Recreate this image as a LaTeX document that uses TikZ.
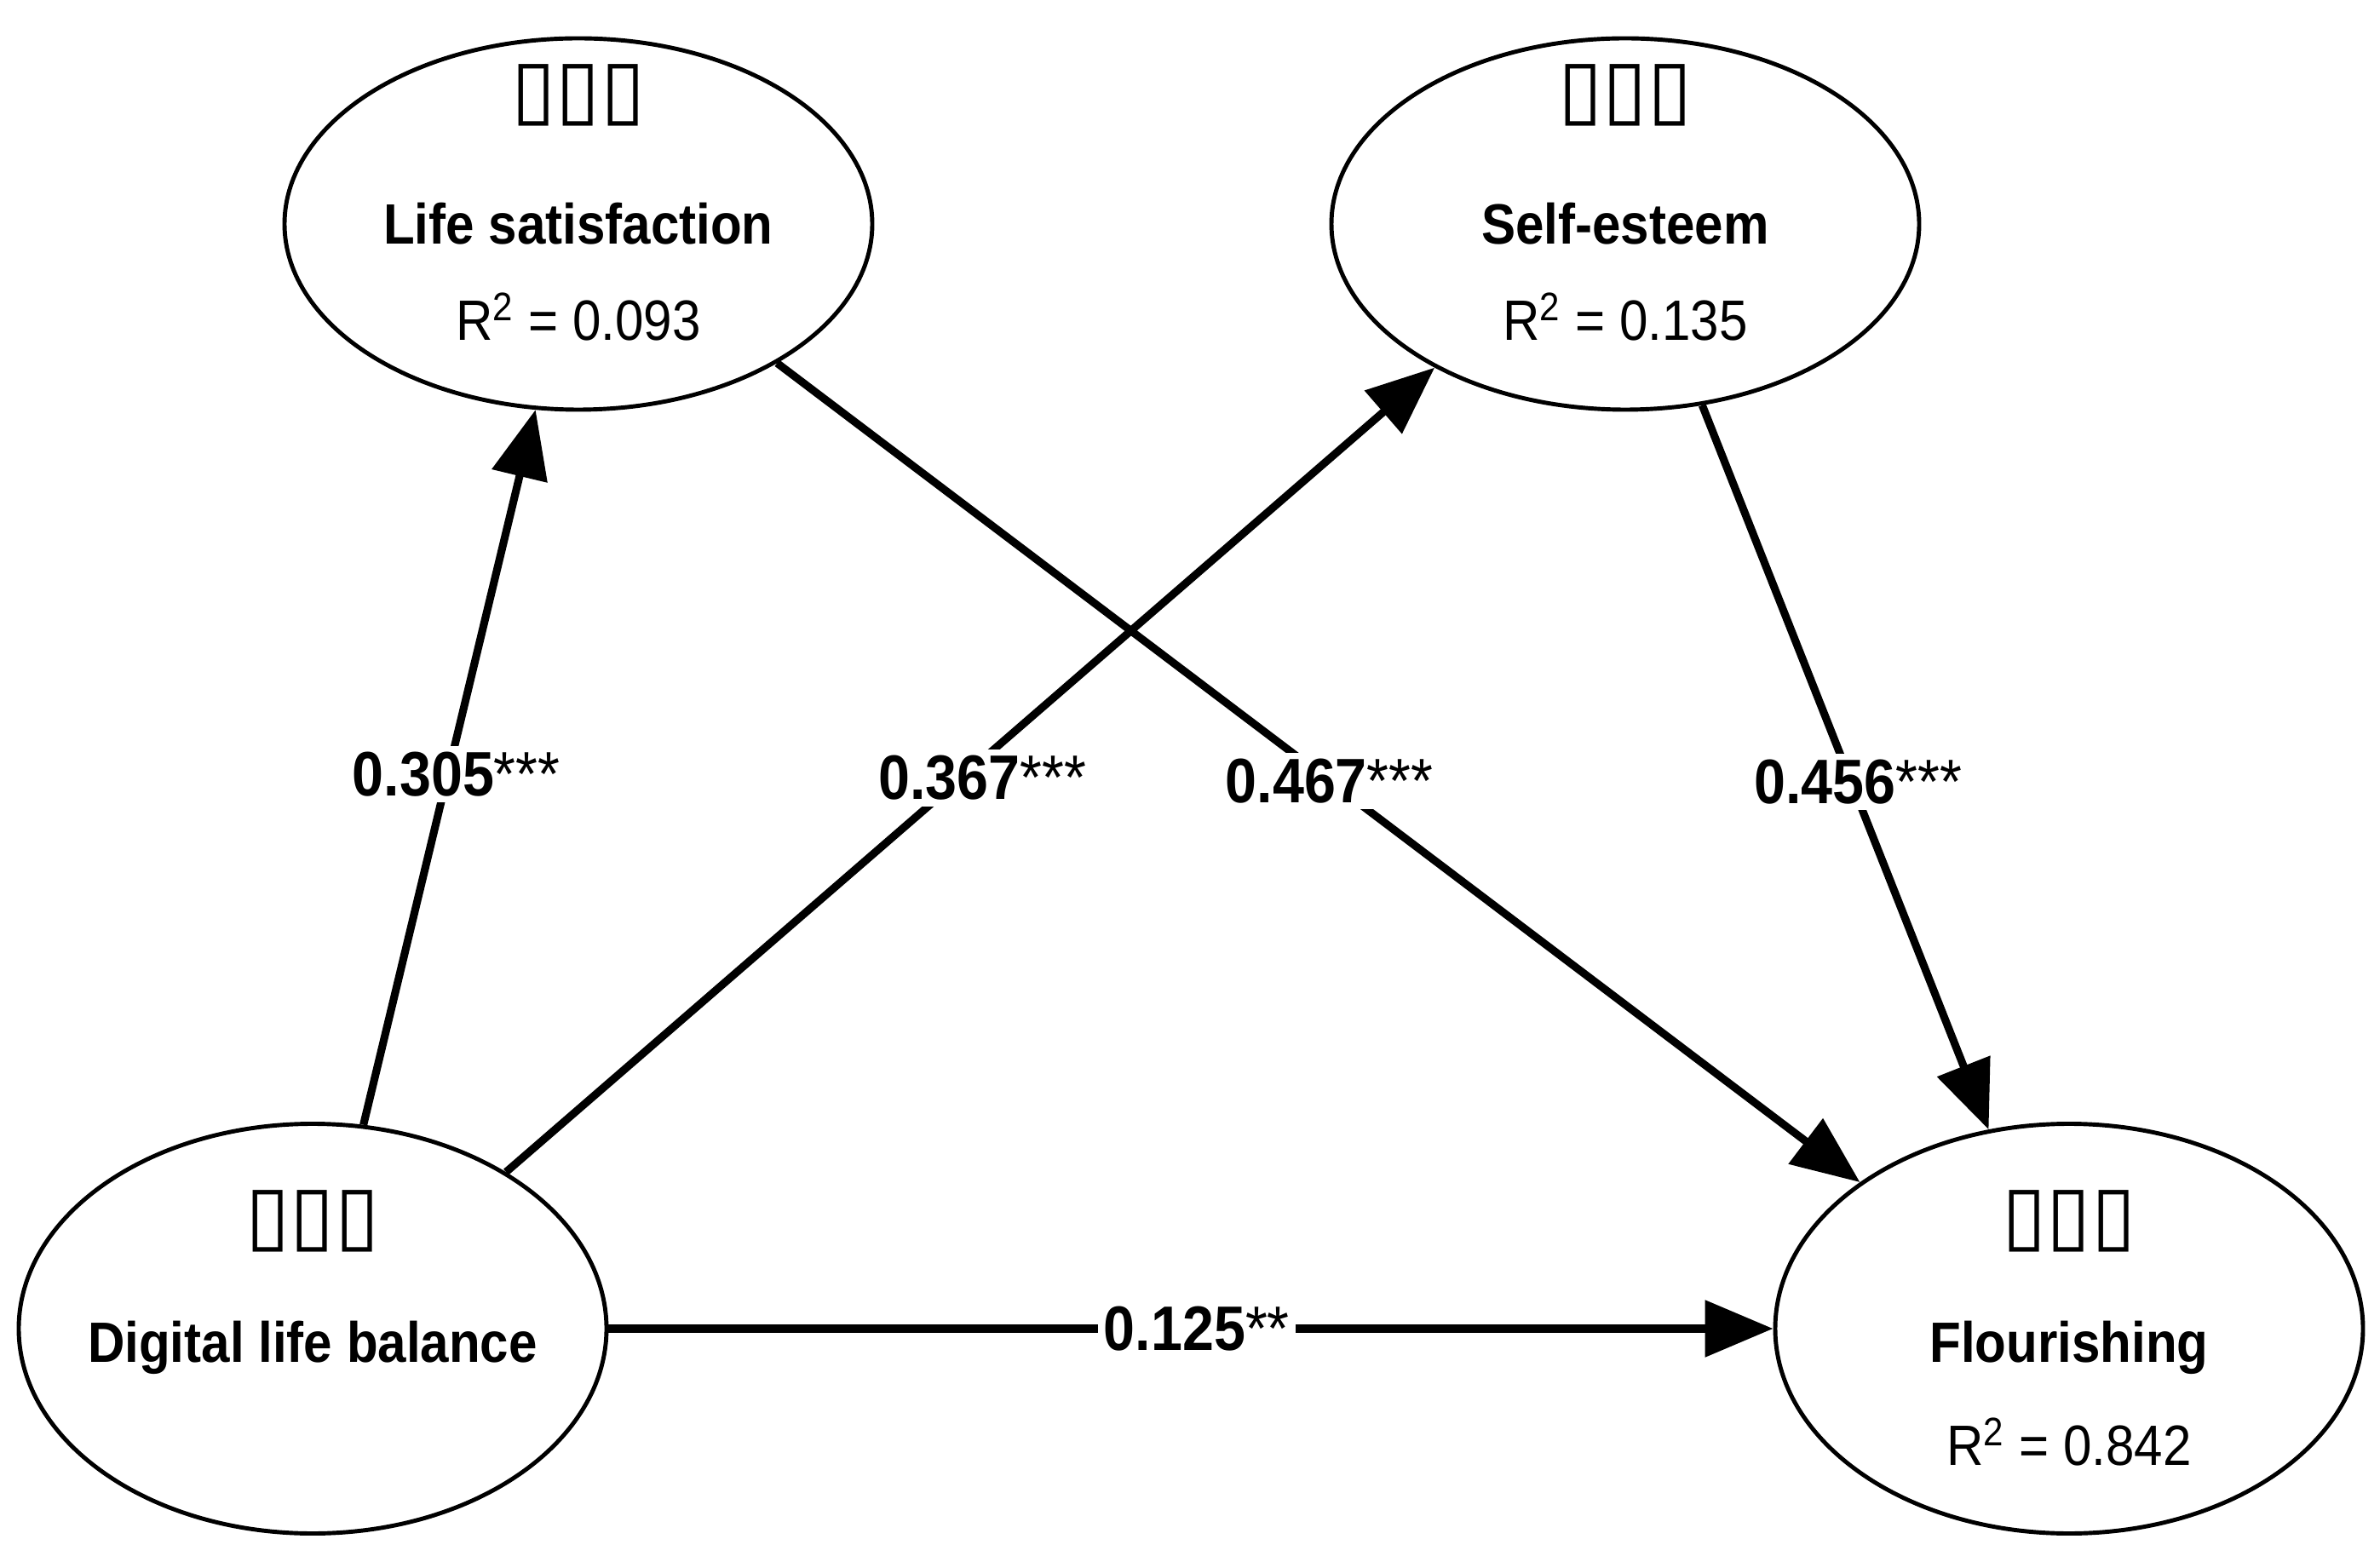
\documentclass[tikz,border=0pt]{standalone}
\usepackage{fontspec}
\setmainfont{Liberation Sans}[FakeStretch=0.9]
\newfontfamily\boxfont{DejaVu Sans}
\usetikzlibrary{arrows.meta, positioning, shapes.geometric}

\begin{document}
\begin{tikzpicture}[
  latent/.style={draw, ellipse, line width=1.4pt, minimum width=6.9cm, inner sep=0pt},
  tofu/.style={font=\boxfont\fontsize{27}{27}\selectfont, inner sep=0pt},
  cname/.style={font=\fontsize{19}{19}\selectfont\bfseries, inner sep=0pt},
  rsq/.style={font=\fontsize{19}{19}\selectfont, inner sep=0pt},
  coef/.style={fill=white, inner sep=2pt, font=\fontsize{21}{21}\selectfont\bfseries},
  arr/.style={line width=2.6pt, -{Triangle[length=8mm, width=6.5mm]}}
]
\useasboundingbox (0,0) rectangle (27.94,-18.34);

% constructs
\node[latent, minimum height=4.36cm] (ls) at (6.79,-2.63) {};
\node[latent, minimum height=4.36cm] (se) at (19.08,-2.63) {};
\node[latent, minimum height=4.81cm] (dlb) at (3.67,-15.60) {};
\node[latent, minimum height=4.81cm] (fl) at (24.29,-15.60) {};

\node[tofu] (ls-b) at ([yshift=1.51cm]ls.center) {▯▯▯};
\node[cname] (ls-n) at (ls.center) {Life satisfaction};
\node[rsq] (ls-r) at ([yshift=-1.09cm]ls.center) {R\textsuperscript{2} = 0.093};

\node[tofu] (se-b) at ([yshift=1.51cm]se.center) {▯▯▯};
\node[cname] (se-n) at (se.center) {Self-esteem};
\node[rsq] (se-r) at ([yshift=-1.09cm]se.center) {R\textsuperscript{2} = 0.135};

\node[tofu] (dlb-b) at ([yshift=1.26cm]dlb.center) {▯▯▯};
\node[cname] (dlb-n) at ([yshift=-0.22cm]dlb.center) {Digital life balance};

\node[tofu] (fl-b) at ([yshift=1.26cm]fl.center) {▯▯▯};
\node[cname] (fl-n) at ([yshift=-0.22cm]fl.center) {Flourishing};
\node[rsq] (fl-r) at ([yshift=-1.33cm]fl.center) {R\textsuperscript{2} = 0.842};

% paths
\draw[arr] (dlb.76) -- node[coef, pos=0.49, xshift=0.1cm] (c-dl) {0.305\textmd{***}} (ls.257);
\draw[arr] (dlb.39) -- node[coef, pos=0.49, xshift=0.25cm] (c-ds) {0.367\textmd{***}} (se.217);
\draw[arr] (ls.325) -- node[coef, pos=0.51] (c-lf) {0.467\textmd{***}} (fl.145);
\draw[arr] (se.293) -- node[coef, pos=0.52, xshift=0.08cm] (c-sf) {0.456\textmd{***}} (fl.112);
\draw[arr] (dlb.east) -- node[coef, pos=0.505] (c-df) {0.125\textmd{**}} (fl.west);
\end{tikzpicture}
\end{document}
